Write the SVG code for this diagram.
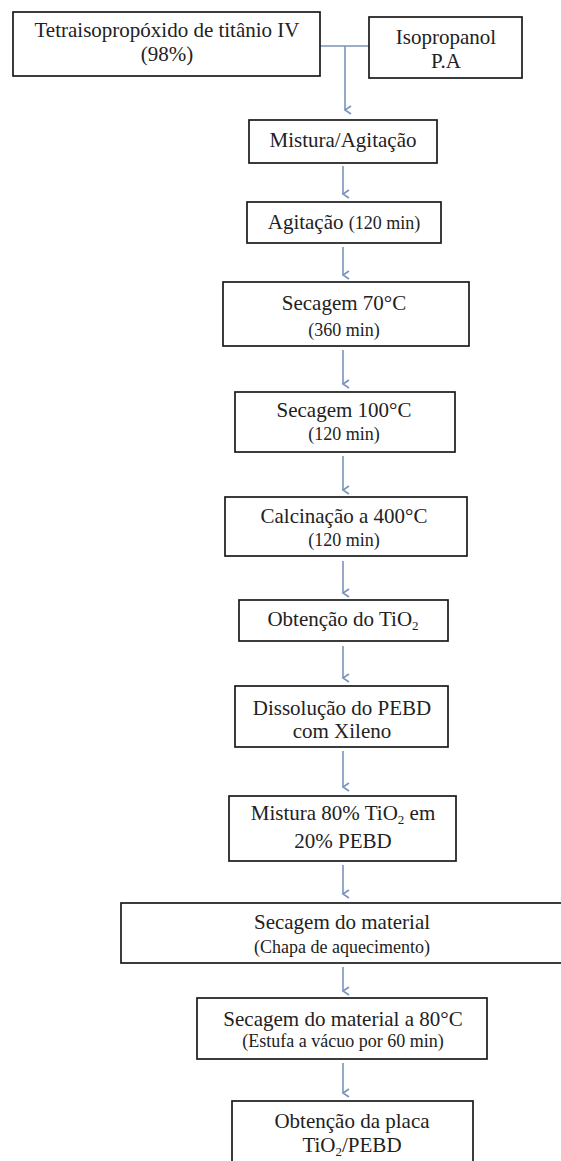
<svg xmlns="http://www.w3.org/2000/svg" width="561" height="1161" viewBox="0 0 561 1161">
<style>
.box{fill:#fff;stroke:#1a1a1a;stroke-width:1.7}
.t{font-family:"Liberation Serif","Times New Roman",serif;font-size:21px;fill:#222;text-anchor:middle}
.s{font-size:18px}
.sub{font-size:13px}
.c{stroke:#7a93bb;stroke-width:1.6;fill:none}
</style>
<defs>
<marker id="ah" markerWidth="10" markerHeight="10" refX="5" refY="8" orient="auto" markerUnits="userSpaceOnUse" viewBox="0 0 10 10">
<path d="M1,2 L5,8 L9,2" fill="none" stroke="#7a93bb" stroke-width="1.6"/>
</marker>
</defs>
<rect width="561" height="1161" fill="#fff"/>
<g id="connectors">
<path class="c" d="M320,46 H369"/>
<path class="c" d="M345,46 V110" marker-end="url(#ah)"/>
<path class="c" d="M343,166 V194" marker-end="url(#ah)"/>
<path class="c" d="M343,247 V275" marker-end="url(#ah)"/>
<path class="c" d="M343,350 V384" marker-end="url(#ah)"/>
<path class="c" d="M343,456 V490" marker-end="url(#ah)"/>
<path class="c" d="M343,561 V593" marker-end="url(#ah)"/>
<path class="c" d="M343,646 V678" marker-end="url(#ah)"/>
<path class="c" d="M343,751 V787" marker-end="url(#ah)"/>
<path class="c" d="M343,865 V894" marker-end="url(#ah)"/>
<path class="c" d="M343,967 V991" marker-end="url(#ah)"/>
<path class="c" d="M343,1063 V1093" marker-end="url(#ah)"/>
</g>
<g id="n1"><rect class="box" x="13" y="12" width="307" height="64"/>
<text class="t" x="167" y="37">Tetraisopropóxido de titânio IV</text>
<text class="t" x="167" y="61">(98%)</text></g>
<g id="n2"><rect class="box" x="369" y="17" width="153" height="61"/>
<text class="t" x="446" y="44">Isopropanol</text>
<text class="t" x="446" y="68">P.A</text></g>
<g id="n3"><rect class="box" x="249" y="120" width="188" height="43"/>
<text class="t" x="343" y="147">Mistura/Agitação</text></g>
<g id="n4"><rect class="box" x="247" y="202" width="194" height="41"/>
<text class="t" x="344" y="229">Agitação <tspan class="s">(120 min)</tspan></text></g>
<g id="n5"><rect class="box" x="223" y="282" width="246" height="64"/>
<text class="t" x="344" y="310">Secagem 70°C</text>
<text class="t s" x="344" y="336">(360 min)</text></g>
<g id="n6"><rect class="box" x="235" y="392" width="220" height="60"/>
<text class="t" x="344" y="417">Secagem 100°C</text>
<text class="t s" x="344" y="440">(120 min)</text></g>
<g id="n7"><rect class="box" x="225" y="497" width="242" height="59"/>
<text class="t" x="344" y="523">Calcinação a 400°C</text>
<text class="t s" x="344" y="546">(120 min)</text></g>
<g id="n8"><rect class="box" x="239" y="600" width="209" height="41"/>
<text class="t" x="343" y="626">Obtenção do TiO<tspan class="sub" dy="4">2</tspan></text></g>
<g id="n9"><rect class="box" x="235" y="686" width="213" height="61"/>
<text class="t" x="342" y="715">Dissolução do PEBD</text>
<text class="t" x="342" y="738">com Xileno</text></g>
<g id="n10"><rect class="box" x="229" y="796" width="227" height="65"/>
<text class="t" x="343" y="820">Mistura 80% TiO<tspan class="sub" dy="4">2</tspan><tspan dy="-4"> em</tspan></text>
<text class="t" x="343" y="848">20% PEBD</text></g>
<g id="n11"><rect class="box" x="121" y="903" width="450" height="60"/>
<text class="t" x="342" y="929">Secagem do material</text>
<text class="t s" x="342" y="953">(Chapa de aquecimento)</text></g>
<g id="n12"><rect class="box" x="197" y="998" width="290" height="61"/>
<text class="t" x="343" y="1026">Secagem do material a 80°C</text>
<text class="t s" x="343" y="1047">(Estufa a vácuo por 60 min)</text></g>
<g id="n13"><rect class="box" x="232" y="1101" width="241" height="80"/>
<text class="t" x="352" y="1128">Obtenção da placa</text>
<text class="t" x="352" y="1152">TiO<tspan class="sub" dy="4">2</tspan><tspan dy="-4">/PEBD</tspan></text></g>
</svg>
